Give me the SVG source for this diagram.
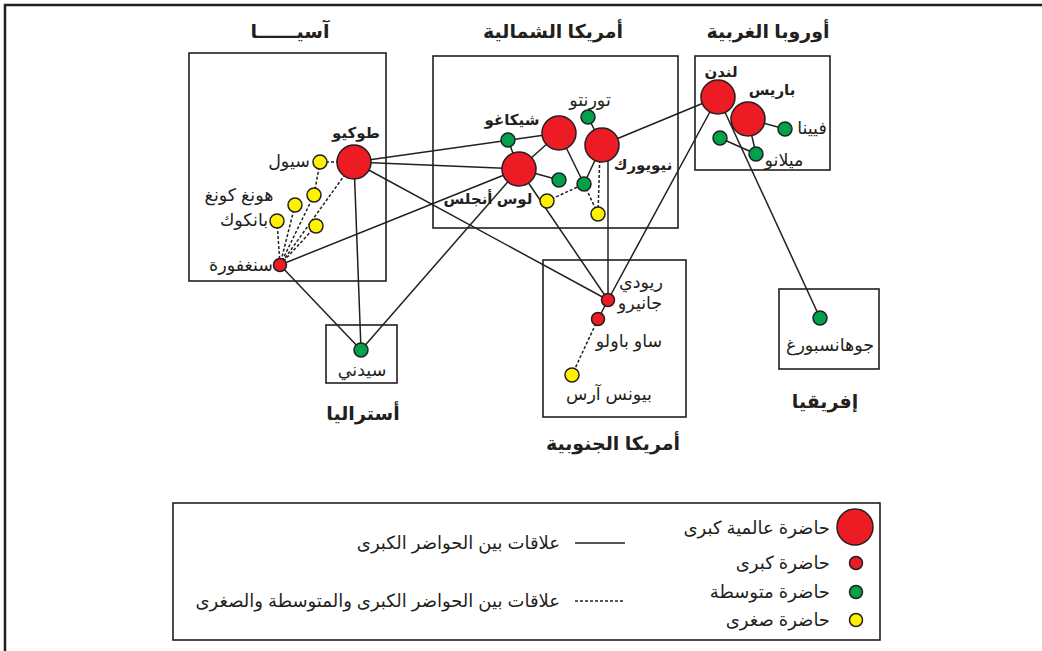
<svg xmlns="http://www.w3.org/2000/svg" width="1042" height="651" viewBox="0 0 1042 651">
<style>
text{font-family:"Liberation Sans","DejaVu Sans",sans-serif;fill:#231f20;text-anchor:middle}
.t{font-size:19px;font-weight:bold}
.c{font-size:17.5px}
.l{font-size:18px;text-anchor:end}
.b{font-size:15px;font-weight:bold}
.box{fill:none;stroke:#231f20;stroke-width:1.6}
.s{stroke:#231f20;stroke-width:1.5;fill:none}
.d{stroke:#231f20;stroke-width:1.5;fill:none;stroke-dasharray:3 2}
.R{fill:#ed1c24;stroke:#231f20;stroke-width:1.5}
.G{fill:#00a14b;stroke:#231f20;stroke-width:1.5}
.Y{fill:#fff200;stroke:#231f20;stroke-width:1.5}
</style>
<rect width="1042" height="651" fill="#fff"/>
<path d="M5 651V5H1042" fill="none" stroke="#231f20" stroke-width="2.5"/>
<g id="regions">
<rect class="box" x="189" y="53" width="197" height="228"/>
<text class="t" x="290" y="38">آسيــــــا</text>
<rect class="box" x="433" y="56" width="245" height="172"/>
<text class="t" x="553" y="38">أمريكا الشمالية</text>
<rect class="box" x="695" y="56" width="135" height="114"/>
<text class="t" x="768" y="38">أوروبا الغربية</text>
<rect class="box" x="543" y="260" width="143" height="157"/>
<text class="t" x="613" y="450">أمريكا الجنوبية</text>
<rect class="box" x="326" y="325" width="71" height="58"/>
<text class="t" x="363" y="420">أستراليا</text>
<rect class="box" x="779" y="289" width="100" height="80"/>
<text class="t" x="825" y="408">إفريقيا</text>
</g>
<g id="connectors">
<line class="s" x1="354" y1="162" x2="559" y2="133"/>
<line class="s" x1="354" y1="162" x2="519" y2="169"/>
<line class="s" x1="354" y1="162" x2="608" y2="300"/>
<line class="s" x1="354" y1="162" x2="361" y2="350"/>
<line class="s" x1="280" y1="265" x2="519" y2="169"/>
<line class="s" x1="280" y1="265" x2="361" y2="350"/>
<line class="s" x1="519" y1="169" x2="361" y2="350"/>
<line class="s" x1="519" y1="169" x2="559" y2="133"/>
<line class="s" x1="519" y1="169" x2="508" y2="140"/>
<line class="s" x1="519" y1="169" x2="559" y2="180"/>
<line class="s" x1="519" y1="169" x2="608" y2="300"/>
<line class="s" x1="559" y1="133" x2="584" y2="184"/>
<line class="s" x1="602" y1="145" x2="584" y2="184"/>
<line class="s" x1="602" y1="145" x2="588" y2="117"/>
<line class="s" x1="608" y1="150" x2="608" y2="300"/>
<line class="s" x1="602" y1="145" x2="718" y2="97"/>
<line class="s" x1="718" y1="97" x2="608" y2="300"/>
<line class="s" x1="718" y1="97" x2="820" y2="318"/>
<line class="s" x1="748" y1="119" x2="785" y2="129"/>
<line class="s" x1="748" y1="119" x2="756" y2="154"/>
<line class="s" x1="756" y1="154" x2="720" y2="138"/>
<line class="s" x1="608" y1="300" x2="598" y2="319"/>
<line class="d" x1="354" y1="162" x2="320" y2="162"/>
<line class="d" x1="354" y1="162" x2="280" y2="265"/>
<line class="d" x1="320" y1="162" x2="314" y2="195"/>
<line class="d" x1="314" y1="195" x2="280" y2="265"/>
<line class="d" x1="295" y1="205" x2="280" y2="265"/>
<line class="d" x1="277" y1="221" x2="280" y2="265"/>
<line class="d" x1="316" y1="226" x2="280" y2="265"/>
<line class="d" x1="547" y1="201" x2="584" y2="184"/>
<line class="d" x1="584" y1="184" x2="598" y2="214"/>
<line class="d" x1="600" y1="150" x2="598" y2="214"/>
<line class="d" x1="598" y1="319" x2="572" y2="375"/>
</g>
<g id="asia">
<g id="tokyo"><circle class="R" cx="354" cy="162" r="17"/><text class="b" x="356" y="138">طوكيو</text></g>
<g id="seoul"><circle class="Y" cx="320" cy="162" r="7"/><text class="c" x="289" y="167">سيول</text></g>
<g id="hongkong"><circle class="Y" cx="314" cy="195" r="7"/><circle class="Y" cx="295" cy="205" r="7"/><text class="c" x="239" y="201">هونغ كونغ</text></g>
<g id="bangkok"><circle class="Y" cx="277" cy="221" r="7"/><circle class="Y" cx="316" cy="226" r="7"/><text class="c" x="244" y="226">بانكوك</text></g>
<g id="singapore"><circle class="R" cx="280" cy="265" r="6.5"/><text class="c" x="241" y="271">سنغفورة</text></g>
</g>
<g id="namerica">
<g id="chicago"><circle class="G" cx="508" cy="140" r="7"/><circle class="R" cx="559" cy="133" r="17"/><text class="b" x="512" y="125">شيكاغو</text></g>
<g id="toronto"><circle class="G" cx="588" cy="117" r="7"/><text class="c" x="590" y="106">تورنتو</text></g>
<g id="newyork"><circle class="R" cx="602" cy="145" r="17"/><text class="b" x="643" y="170">نيويورك</text></g>
<g id="losangeles"><circle class="R" cx="519" cy="169" r="17"/><text class="b" x="488" y="204">لوس أنجلس</text></g>
<g id="na-minor"><circle class="G" cx="559" cy="180" r="7"/><circle class="G" cx="584" cy="184" r="7"/><circle class="Y" cx="547" cy="201" r="7"/><circle class="Y" cx="598" cy="214" r="7"/></g>
</g>
<g id="europe">
<g id="london"><circle class="R" cx="718" cy="97" r="17"/><text class="b" x="721" y="77">لندن</text></g>
<g id="paris"><circle class="R" cx="748" cy="119" r="17"/><text class="b" x="772" y="95">باريس</text></g>
<g id="vienna"><circle class="G" cx="785" cy="129" r="7"/><text class="c" x="812" y="134">فيينا</text></g>
<g id="milan"><circle class="G" cx="756" cy="154" r="7"/><circle class="G" cx="720" cy="138" r="7"/><text class="c" x="784" y="166">ميلانو</text></g>
</g>
<g id="samerica">
<g id="rio"><circle class="R" cx="608" cy="300" r="6.5"/><text class="c" x="641" y="288">ريودي</text><text class="c" x="640" y="309">جانيرو</text></g>
<g id="saopaulo"><circle class="R" cx="598" cy="319" r="6.5"/><text class="c" x="629" y="347">ساو باولو</text></g>
<g id="buenosaires"><circle class="Y" cx="572" cy="375" r="7"/><text class="c" x="609" y="400">بيونس آرس</text></g>
</g>
<g id="sydney"><circle class="G" cx="361" cy="350" r="7"/><text class="c" x="362" y="376">سيدني</text></g>
<g id="johannesburg"><circle class="G" cx="820" cy="318" r="7"/><text class="c" x="830" y="351">جوهانسبورغ</text></g>
<g id="legend">
<rect class="box" x="173" y="503" width="707" height="137"/>
<circle class="R" cx="855" cy="527" r="18"/>
<text class="l" x="830" y="534">حاضرة عالمية كبرى</text>
<circle class="R" cx="856" cy="563" r="6.5"/>
<text class="l" x="830" y="569">حاضرة كبرى</text>
<circle class="G" cx="856" cy="592" r="6.5"/>
<text class="l" x="830" y="598">حاضرة متوسطة</text>
<circle class="Y" cx="856" cy="620" r="6.5"/>
<text class="l" x="830" y="626">حاضرة صغرى</text>
<line class="s" x1="575" y1="543" x2="625" y2="543"/>
<text class="l" x="560" y="549">علاقات بين الحواضر الكبرى</text>
<line class="d" x1="575" y1="601" x2="625" y2="601"/>
<text class="l" x="560" y="607">علاقات بين الحواضر الكبرى والمتوسطة والصغرى</text>
</g>
</svg>
